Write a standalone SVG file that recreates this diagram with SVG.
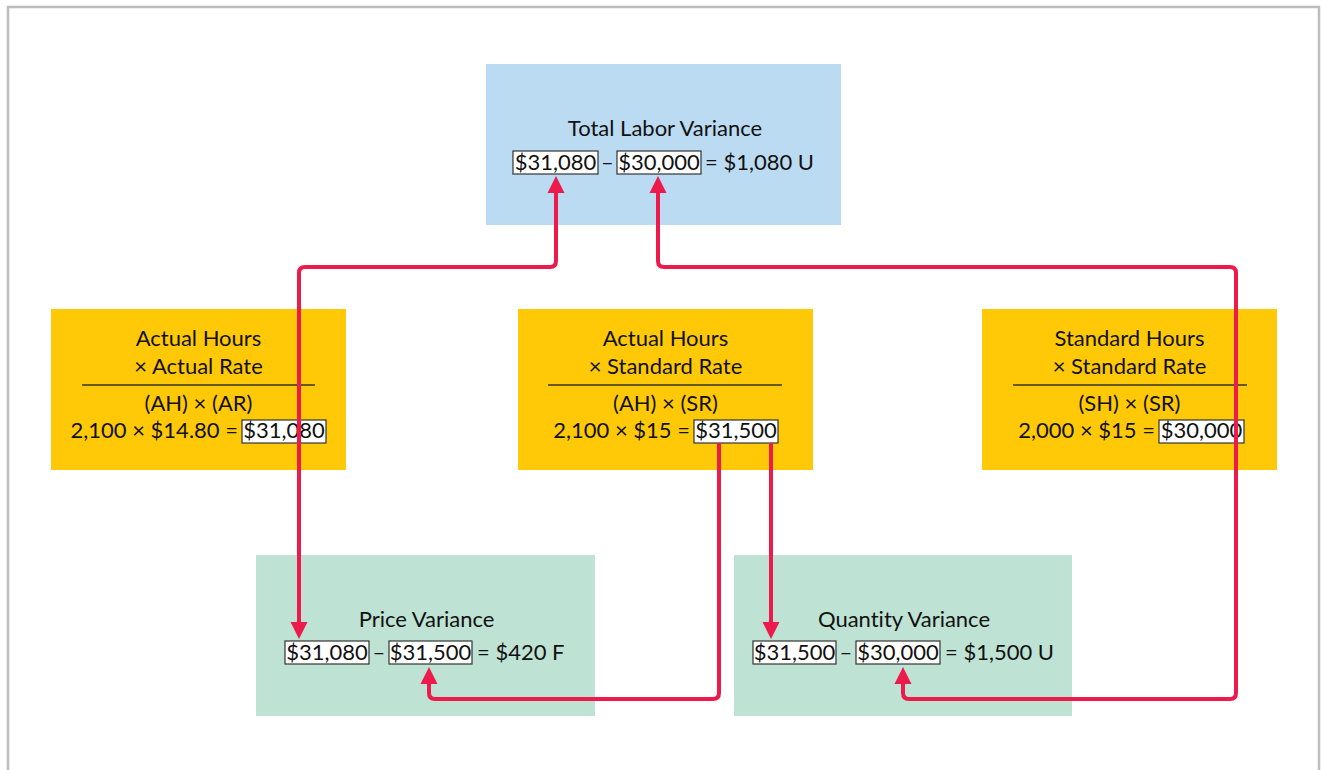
<svg xmlns="http://www.w3.org/2000/svg" width="1321" height="770" viewBox="0 0 1321 770">
<style>
text{font-family:Lato,"Open Sans","DejaVu Sans",sans-serif;font-size:22px;fill:#111;font-variant-ligatures:none;font-feature-settings:"liga" 0,"dlig" 0}
.c{text-anchor:middle}
.e{text-anchor:end}
.vb{fill:#fff;stroke:#333;stroke-width:1.2}
.sep{stroke:#333;stroke-width:1.3}
.conn{fill:none;stroke:#EC1B4B;stroke-width:4}
</style>
<defs>
<marker id="ah" markerUnits="userSpaceOnUse" markerWidth="18" markerHeight="18" viewBox="0 0 18 18" refX="1" refY="9" orient="auto-start-reverse">
<path d="M0,0.5 L17,9 L0,17.5 z" fill="#EC1B4B"/>
</marker>
</defs>
<rect x="0" y="0" width="1321" height="770" fill="#fff"/>
<rect x="8" y="7" width="1311" height="800" fill="none" stroke="#BDBDBD" stroke-width="2.5"/>

<g id="total">
<rect x="486" y="64" width="355" height="161" fill="#BBDBF2"/>
<text class="c" x="665" y="136">Total Labor Variance</text>
<rect class="vb" x="513" y="151" width="85" height="23"/>
<text class="c" x="555.5" y="170">$31,080</text>
<text class="c" x="607.5" y="170">–</text>
<rect class="vb" x="617" y="151" width="84" height="23"/>
<text class="c" x="659" y="170">$30,000</text>
<text x="705" y="170">= $1,080 U</text>
</g>

<g id="ahar">
<rect x="51" y="309" width="295" height="161" fill="#FFC907"/>
<text class="c" x="198.5" y="346">Actual Hours</text>
<text class="c" x="198.5" y="374">× Actual Rate</text>
<line class="sep" x1="82" y1="385" x2="315" y2="385"/>
<text class="c" x="198.5" y="411">(AH) × (AR)</text>
<text class="e" x="238" y="438">2,100 × $14.80 =</text>
<rect class="vb" x="242" y="420" width="84" height="23"/>
<text class="c" x="284" y="438">$31,080</text>
</g>

<g id="ahsr">
<rect x="518" y="309" width="295" height="161" fill="#FFC907"/>
<text class="c" x="665.5" y="346">Actual Hours</text>
<text class="c" x="665.5" y="374">× Standard Rate</text>
<line class="sep" x1="548" y1="385" x2="782" y2="385"/>
<text class="c" x="665.5" y="411">(AH) × (SR)</text>
<text class="e" x="690" y="438">2,100 × $15 =</text>
<rect class="vb" x="694" y="420" width="84" height="23"/>
<text class="c" x="736" y="438">$31,500</text>
</g>

<g id="shsr">
<rect x="982" y="309" width="295" height="161" fill="#FFC907"/>
<text class="c" x="1129.5" y="346">Standard Hours</text>
<text class="c" x="1129.5" y="374">× Standard Rate</text>
<line class="sep" x1="1013" y1="385" x2="1247" y2="385"/>
<text class="c" x="1129.5" y="411">(SH) × (SR)</text>
<text class="e" x="1155" y="438">2,000 × $15 =</text>
<rect class="vb" x="1159" y="420" width="85" height="23"/>
<text class="c" x="1201.5" y="438">$30,000</text>
</g>

<g id="price">
<rect x="256" y="555" width="339" height="161" fill="#BEE3D4"/>
<text class="c" x="426.5" y="627">Price Variance</text>
<rect class="vb" x="285" y="641" width="84" height="23"/>
<text class="c" x="327" y="660">$31,080</text>
<text class="c" x="379" y="660">–</text>
<rect class="vb" x="389" y="641" width="83" height="23"/>
<text class="c" x="430.5" y="660">$31,500</text>
<text x="477" y="660">= $420 F</text>
</g>

<g id="quantity">
<rect x="734" y="555" width="338" height="161" fill="#BEE3D4"/>
<text class="c" x="904" y="627">Quantity Variance</text>
<rect class="vb" x="753" y="641" width="83" height="23"/>
<text class="c" x="794.5" y="660">$31,500</text>
<text class="c" x="846" y="660">–</text>
<rect class="vb" x="856" y="641" width="84" height="23"/>
<text class="c" x="898" y="660">$30,000</text>
<text x="945" y="660">= $1,500 U</text>
</g>

<g id="connectors">
<path class="conn" d="M556,192 V261 Q556,267 550,267 H305 Q299,267 299,273 V623" marker-start="url(#ah)" marker-end="url(#ah)"/>
<path class="conn" d="M658,192 V261 Q658,267 664,267 H1230 Q1236,267 1236,273 V693 Q1236,699 1230,699 H909 Q903,699 903,693 V683" marker-start="url(#ah)" marker-end="url(#ah)"/>
<path class="conn" d="M719,443 V693 Q719,699 713,699 H435 Q429,699 429,693 V683" marker-end="url(#ah)"/>
<path class="conn" d="M771,443 V623" marker-end="url(#ah)"/>
</g>
</svg>
